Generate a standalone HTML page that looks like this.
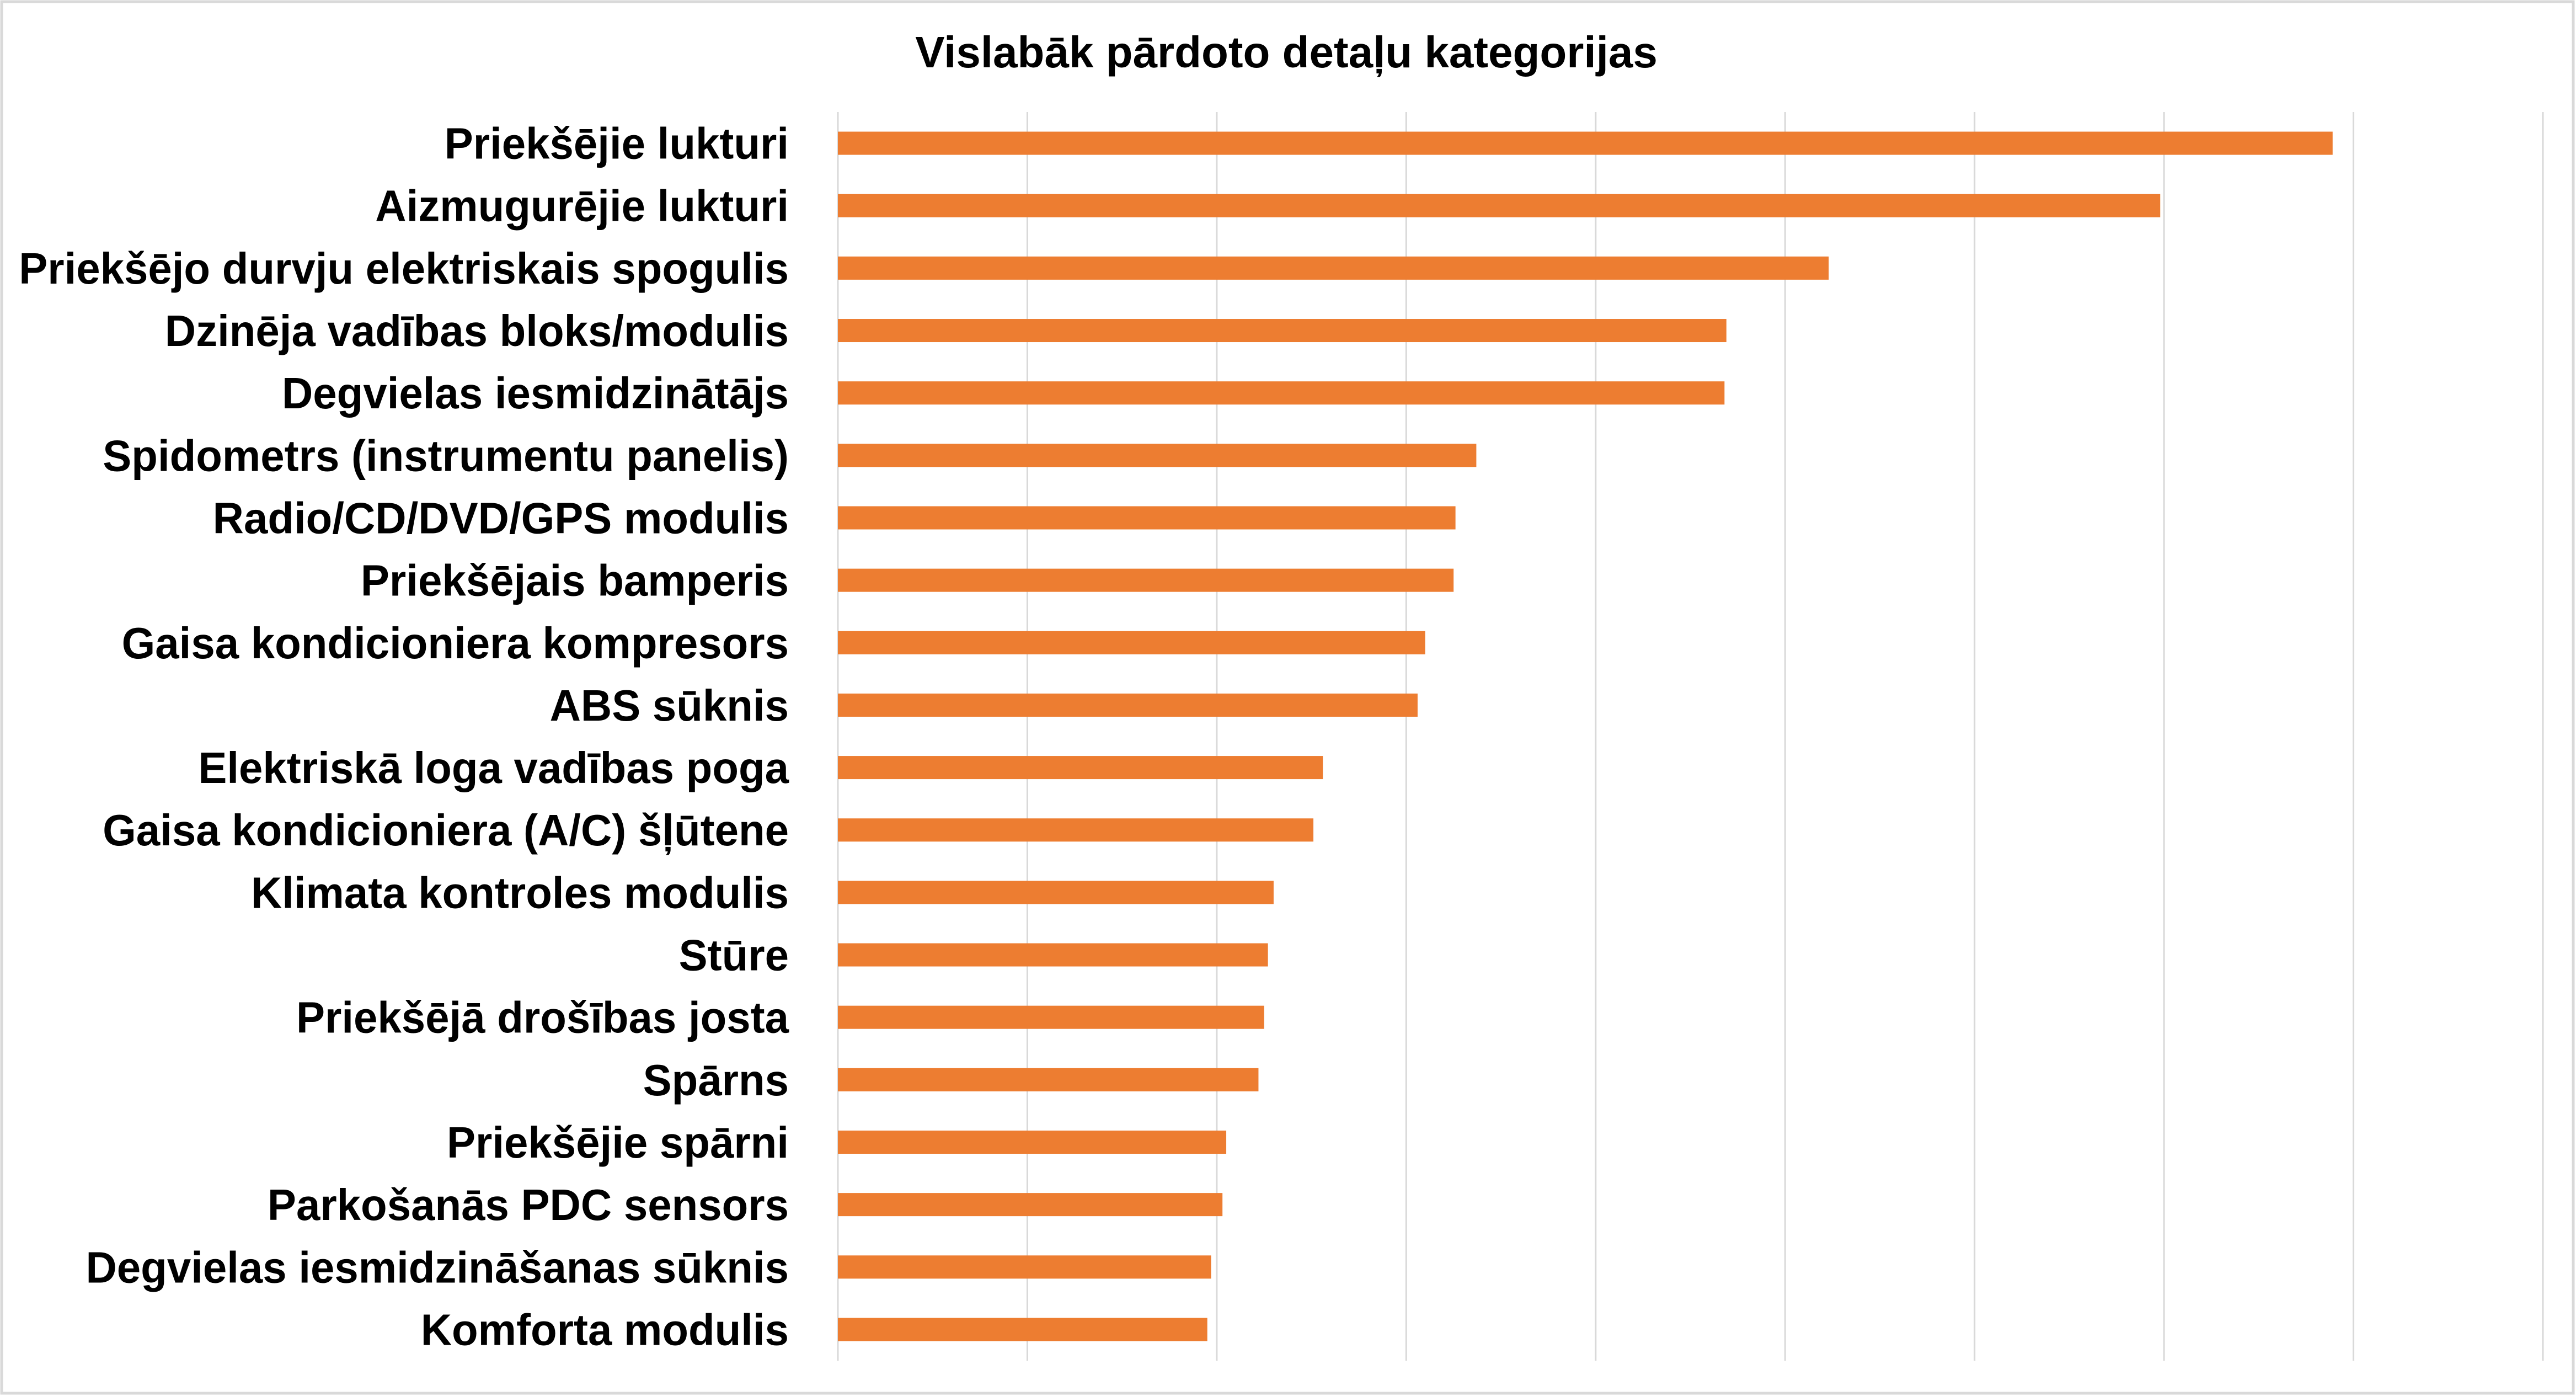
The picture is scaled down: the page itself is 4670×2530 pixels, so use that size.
<!DOCTYPE html>
<html><head><meta charset="utf-8"><style>
html,body{margin:0;padding:0;background:#fff}
svg{display:block}
</style></head><body>
<svg id="chart" width="4670" height="2530" viewBox="0 0 4670 2530" xmlns="http://www.w3.org/2000/svg">
<rect x="3" y="3" width="4662" height="2522" fill="#fff" stroke="#d9d9d9" stroke-width="5"/>
<text x="2332" y="122" text-anchor="middle" font-family="Liberation Sans, sans-serif" font-weight="bold" font-size="80">Vislabāk pārdoto detaļu kategorijas</text>
<g id="grid"></g>
<g id="bars"></g>
<g id="labels"></g>
</svg>
<script>
const categories = ["Priekšējie lukturi","Aizmugurējie lukturi","Priekšējo durvju elektriskais spogulis","Dzinēja vadības bloks/modulis","Degvielas iesmidzinātājs","Spidometrs (instrumentu panelis)","Radio/CD/DVD/GPS modulis","Priekšējais bamperis","Gaisa kondicioniera kompresors","ABS sūknis","Elektriskā loga vadības poga","Gaisa kondicioniera (A/C) šļūtene","Klimata kontroles modulis","Stūre","Priekšējā drošības josta","Spārns","Priekšējie spārni","Parkošanās PDC sensors","Degvielas iesmidzināšanas sūknis","Komforta modulis"];
const values = [789,698,523,469,468,337,326,325,310,306,256,251,230,227,225,222,205,203,197,195];
const ticks = [0,100,200,300,400,500,600,700,800,900];

const NS = "http://www.w3.org/2000/svg";
const x0 = 1519, x1 = 4610, yTop = 203, yBot = 2466;
const xMax = 900;
const xs = v => x0 + (v / xMax) * (x1 - x0);
const band = (yBot - yTop) / categories.length;
const yc = i => yTop + band * (i + 0.5);
const barH = 42;

const grid = document.getElementById('grid');
ticks.forEach(t => {
  const l = document.createElementNS(NS, 'line');
  
  
  l.setAttribute('x1', xs(t)); l.setAttribute('x2', xs(t));
  l.setAttribute('y1', yTop); l.setAttribute('y2', yBot);
  l.setAttribute('stroke', '#d9d9d9'); l.setAttribute('stroke-width', '3');
  grid.appendChild(l);
});

const bars = document.getElementById('bars');
const labels = document.getElementById('labels');
categories.forEach((c, i) => {
  const r = document.createElementNS(NS, 'rect');
  
  
  r.setAttribute('x', xs(0));
  r.setAttribute('y', yc(i) - barH / 2);
  r.setAttribute('width', xs(values[i]) - xs(0));
  r.setAttribute('height', barH);
  r.setAttribute('fill', '#ed7d31');
  bars.appendChild(r);

  const t = document.createElementNS(NS, 'text');
  
  
  t.setAttribute('x', 1430);
  t.setAttribute('y', yc(i) + 28);
  t.setAttribute('text-anchor', 'end');
  t.setAttribute('font-family', 'Liberation Sans, sans-serif');
  t.setAttribute('font-weight', 'bold');
  t.setAttribute('font-size', '80');
  t.setAttribute('transform', 'translate(1430,0) scale(0.975,1) translate(-1430,0)');
  t.textContent = c;
  labels.appendChild(t);
});
</script>
</body></html>
